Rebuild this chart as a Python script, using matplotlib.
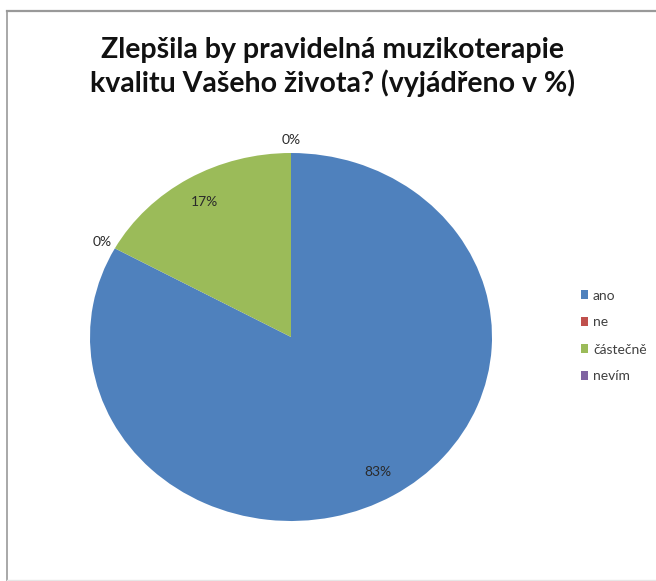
import matplotlib
matplotlib.use("Agg")
import matplotlib.pyplot as plt
import numpy as np
from matplotlib.lines import Line2D

# Data
categories = ["ano", "ne", "částečně", "nevím"]
shares = [83, 0, 17, 0]
label_texts = ["83%", "0%", "17%", "0%"]
colors = ["#4F81BD", "#C0504D", "#9BBB59", "#8064A2"]
title = "Zlepšila by pravidelná muzikoterapie\nkvalitu Vašeho života? (vyjádřeno v %)"

plt.rcParams["font.family"] = ["Lato", "DejaVu Sans"]

W, H = 656, 581
fig = plt.figure(figsize=(W / 100, H / 100), dpi=100)
fig.patch.set_facecolor("white")

# Pie axes (the pie is stretched horizontally, so aspect is left free)
ax = fig.add_axes([90 / W, (H - 521) / H, 402 / W, 368 / H])
wedges, _ = ax.pie(shares, colors=colors, startangle=90, counterclock=False,
                   radius=1.0, wedgeprops=dict(linewidth=0))
ax.set_aspect("auto")
ax.set_xlim(-1, 1)
ax.set_ylim(-1, 1)
ax.axis("off")

# Percentage labels: inside for non-empty slices, just outside for empty ones
for w, txt, val in zip(wedges, label_texts, shares):
    mid = np.deg2rad((w.theta1 + w.theta2) / 2)
    r = 0.85 if val > 0 else 1.07
    ax.text(r * np.cos(mid), r * np.sin(mid), txt, ha="center", va="center",
            fontsize=10, color="#2a2a2a", clip_on=False)

# Title
fig.text(333 / W, 1 - 67 / H, title, ha="center", va="center",
         fontsize=20.5, fontweight="bold", color="#111111", linespacing=1.25)

# Legend
leg = fig.legend(wedges, categories, loc="center left",
                 bbox_to_anchor=(568 / W, 1 - 336 / H), frameon=False,
                 handlelength=0.55, handleheight=0.55, handletextpad=0.35,
                 labelspacing=1.08, fontsize=10)
for t in leg.get_texts():
    t.set_color("#404040")

# Chart area border
fig.add_artist(Line2D([7 / W, 1], [1 - 10.5 / H, 1 - 10.5 / H], color="#999999", lw=1.6,
                      transform=fig.transFigure))
fig.add_artist(Line2D([7 / W, 7 / W], [1 - 10.5 / H, 0], color="#999999", lw=1.2,
                      transform=fig.transFigure))
fig.add_artist(Line2D([7 / W, 1], [1 - 580 / H, 1 - 580 / H], color="#e6e6e6", lw=1,
                      transform=fig.transFigure))

fig.savefig("out.png", dpi=100, facecolor="white")
